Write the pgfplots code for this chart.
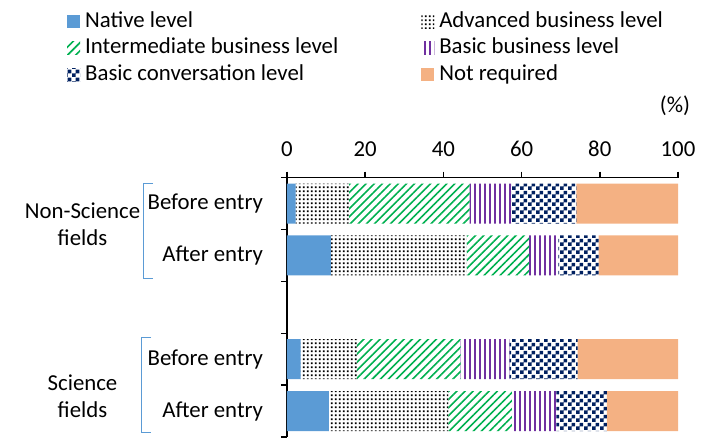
\documentclass[border=0pt]{standalone}
\usepackage{fontspec}
\setmainfont{Carlito}
\usepackage{pgfplots}
\pgfplotsset{compat=1.18}
\usetikzlibrary{patterns.meta}

\definecolor{native}{HTML}{5B9BD5}
\definecolor{intgreen}{HTML}{00B050}
\definecolor{bbpurple}{HTML}{7030A0}
\definecolor{convnavy}{HTML}{002060}
\definecolor{notreq}{HTML}{F4B183}

% small square dots on a regular grid
\pgfdeclarepattern{
  name=dotgrid, type=uncolored,
  bottom left={\pgfpoint{0pt}{0pt}},
  top right={\pgfpoint{4.2pt}{4.2pt}},
  tile size={\pgfpoint{4.2pt}{4.2pt}},
  code={\pgfpathrectangle{\pgfpoint{1pt}{1pt}}{\pgfpoint{2.2pt}{2.2pt}}\pgfusepath{fill}}
}
% checkerboard
\pgfdeclarepattern{
  name=checker, type=uncolored,
  bottom left={\pgfpoint{0pt}{0pt}},
  top right={\pgfpoint{8pt}{8pt}},
  tile size={\pgfpoint{8pt}{8pt}},
  code={\pgfpathrectangle{\pgfpoint{0pt}{0pt}}{\pgfpoint{4pt}{4pt}}%
        \pgfpathrectangle{\pgfpoint{4pt}{4pt}}{\pgfpoint{4pt}{4pt}}\pgfusepath{fill}}
}

\newcommand{\lbl}{\fontsize{22.8}{26.5}\selectfont}

\begin{document}
\begin{tikzpicture}[x=1pt,y=1pt]
\useasboundingbox (0,0) rectangle (710,437);
\begin{axis}[
  at={(287pt,0pt)}, anchor=south west,
  scale only axis, width=391pt, height=259.3pt,
  xbar stacked, bar width=40pt,
  xmin=0, xmax=100, ymin=-0.5, ymax=4.5,
  axis x line*=top, axis y line*=left,
  axis line style={line width=1.5pt, -},
  xtick={0,20,...,100},
  ytick={-0.5,0.5,...,4.5},
  y tick label as interval,
  yticklabels={After entry, Before entry, {}, After entry, Before entry},
  tick align=outside, major tick length=6pt,
  tick style={line width=1.5pt, black},
  tick label style={font=\lbl},
  /pgf/number format/assume math mode=true,
  xticklabel style={yshift=12pt},
  yticklabel style={xshift=-14.5pt},
  legend style={at={(-0.5627,1.6418)}, anchor=north west, draw=none, fill=none,
    inner sep=0pt, font=\lbl, legend columns=2, row sep=5.5pt,
    nodes={inner sep=0pt, text height=16pt, text depth=5pt},
    /tikz/every odd column/.append style={column sep=5pt},
    /tikz/every even column/.append style={column sep=83pt}},
  legend cell align=left,
  legend image code/.code={\fill[#1] (0pt,-6.5pt) rectangle (13pt,6.5pt);},
]
% y positions: 4 = Non-Science before, 3 = Non-Science after,
%              1 = Science before,     0 = Science after
\addplot[fill=native, draw=none]
  coordinates {(2.2,4) (11.2,3) (3.5,1) (10.7,0)};
\addlegendentry{Native level}
\addplot[pattern=dotgrid, pattern color=black, draw=none]
  coordinates {(13.7,4) (34.8,3) (14.4,1) (30.6,0)};
\addlegendentry{Advanced business level}
\addplot[pattern={Lines[angle=45,distance=5.7pt,line width=1.6pt]}, pattern color=intgreen, draw=none]
  coordinates {(30.8,4) (15.9,3) (26.5,1) (16.2,0)};
\addlegendentry{Intermediate business level}
\addplot[pattern={Lines[angle=90,distance=5pt,line width=2pt]}, pattern color=bbpurple, draw=none]
  coordinates {(10.7,4) (7.5,3) (12.5,1) (11.4,0)};
\addlegendentry{Basic business level}
\addplot[pattern=checker, pattern color=convnavy, draw=none]
  coordinates {(16.6,4) (10.3,3) (17.4,1) (12.9,0)};
\addlegendentry{Basic conversation level}
\addplot[fill=notreq, draw=none]
  coordinates {(26.0,4) (20.3,3) (25.7,1) (18.2,0)};
\addlegendentry{Not required}
\end{axis}

% unit
\node[font=\lbl] at (675,331) {(\%)};

% group labels with brackets
\node[font=\lbl, align=center] at (82.5,213) {Non-Science\\fields};
\node[font=\lbl, align=center] at (82.5,41) {Science\\fields};
\draw[native, line width=0.9pt] (153,254) -- (143,254) -- (143,159) -- (153,159);
\draw[native, line width=0.9pt] (151,100) -- (141,100) -- (141,4.3) -- (151,4.3);
\end{tikzpicture}
\end{document}
